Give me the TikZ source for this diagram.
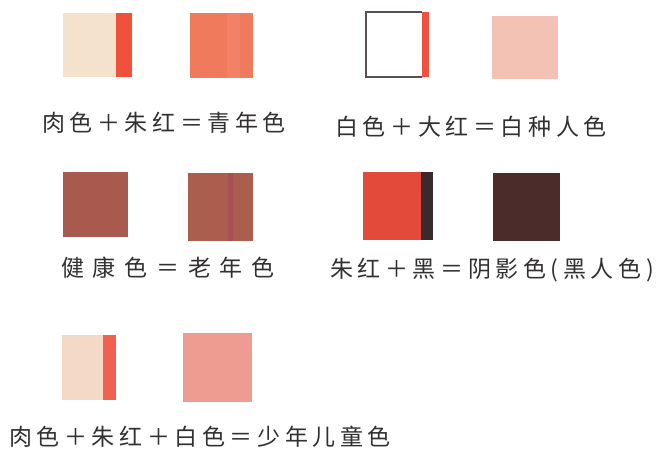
\documentclass[tikz,border=0pt]{standalone}
\usepackage{fontspec}
\newfontfamily\cjk[LetterSpace=20]{Noto Sans CJK SC}
\usepackage{xcolor}
\definecolor{flesh}{HTML}{F5E2CC}
\definecolor{vermil}{HTML}{F0503C}
\definecolor{youth}{HTML}{F07A5C}
\definecolor{rim}{HTML}{5A5050}
\definecolor{whiteskin}{HTML}{F3C2B4}
\definecolor{health}{HTML}{A85A4E}
\definecolor{oldage}{HTML}{AC5E4E}
\definecolor{deepred}{HTML}{E34A3A}
\definecolor{blackish}{HTML}{3A2A30}
\definecolor{shadow}{HTML}{4C2C2A}
\definecolor{pale}{HTML}{F4DAC6}
\definecolor{child}{HTML}{EE9C92}
\definecolor{ink}{HTML}{333030}
\begin{document}
\begin{tikzpicture}[
        x=1pt, y=-1pt,
        swatch/.style={fill=#1},
        stripe/.style={fill=#1},
        caption/.style={text=ink, inner sep=0pt, font=\cjk\fontsize{23}{25}\selectfont}
    ]
        \useasboundingbox[fill=white] (0,0) rectangle (659,449);
        % first row
        \fill[swatch=flesh] (63,13) rectangle (116,77);
        \fill[stripe=vermil] (116,13) rectangle (132,77);
        \fill[swatch=youth] (190,13) rectangle (253,78);
        \fill[stripe=youth!90!pink] (227,13) rectangle (240,78);
        \node[caption] (young) at (164,123) {肉色＋朱红＝青年色};
        \draw[rim, line width=1.2pt] (422,12) -- (366,12) -- (366,77) -- (422,77);
        \fill[stripe=vermil] (422,12) rectangle (429,77);
        \fill[swatch=whiteskin] (492,16) rectangle (558,79);
        \node[caption] (white) at (471,127) {白色＋大红＝白种人色};
        % second row
        \fill[swatch=health] (63,172) rectangle (128,237);
        \fill[swatch=oldage] (188,173) rectangle (253,241);
        \fill[stripe=oldage!85!violet] (228,173) rectangle (233,241);
        \node[caption] (old) at (168,268) {\addfontfeature{LetterSpace=38}健康色＝老年色};
        \fill[swatch=deepred] (363,172) rectangle (421,240);
        \fill[stripe=blackish] (421,172) rectangle (433,240);
        \fill[swatch=shadow] (493,173) rectangle (560,241);
        \node[caption] (black) at (492,270) {朱红＋黑＝阴影色(黑人色)};
        % third row
        \fill[swatch=pale] (62,335) rectangle (103,400);
        \fill[stripe=vermil!90!white] (103,335) rectangle (116,400);
        \fill[swatch=child] (183,333) rectangle (252,402);
        \node[caption] (kid) at (200,437) {肉色＋朱红＋白色＝少年儿童色};
    \end{tikzpicture}
\end{document}
